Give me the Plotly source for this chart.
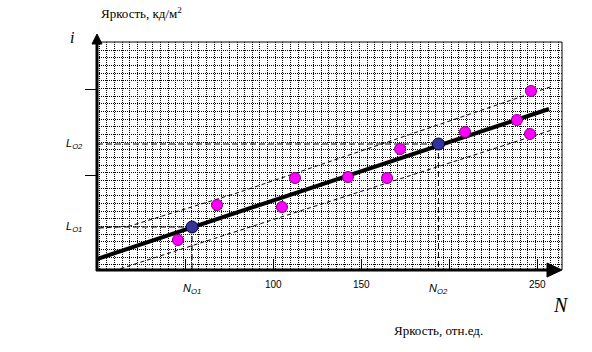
import plotly.graph_objects as go

# ---------------- data ----------------
N_points = [46.0, 68.2, 105.1, 112.5, 142.6, 164.8, 172.2, 209.1, 238.6, 246.0, 246.6]
L_points = [15.0, 32.5, 31.5, 46.0, 46.5, 46.0, 60.5, 69.0, 75.0, 68.0, 89.5]

N_ref = [54, 194]          # N01, N02
L_ref = [21.5, 63.0]       # L01, L02
ref_names_N = ["N<sub>O1</sub>", "N<sub>O2</sub>"]
ref_names_L = ["L<sub>O1</sub>", "L<sub>O2</sub>"]

fit_N = [0.0, 256.8]
fit_L = [5.5, 80.5]

upper_N = [1.7, 18.75, 79.5, 257.4]
upper_L = [21.0, 22.0, 38.5, 91.5]
lower_N = [5.7, 258.5]
lower_L = [-1.5, 70.0]

x_ticks = [50, 100, 150, 200, 250]
x_tick_labels = ["", "100", "150", "", "250"]
y_ticks = [47.5, 90.5]

X_RANGE = [0, 264.2]
Y_RANGE = [0, 114]

# ---------------- layout helpers ----------------
W, H = 592, 352
PL, PR, PT, PB = 97, 562, 42, 270   # plot area in pixels


def px(x):
    return (x - PL) / (PR - PL)


def py(y):
    return (PB - y) / (PB - PT)


SERIF = "Liberation Serif, Times New Roman, serif"
SANS = "Liberation Sans, Arial, sans-serif"

fig = go.Figure()

dash_thin = "4px,3px"
dash_long = "6px,3px"

# confidence band lines
fig.add_trace(go.Scatter(x=upper_N, y=upper_L, mode="lines",
                         line=dict(color="black", width=1, dash=dash_thin), hoverinfo="skip"))
fig.add_trace(go.Scatter(x=lower_N, y=lower_L, mode="lines",
                         line=dict(color="black", width=1, dash=dash_thin), hoverinfo="skip"))

# reference dashed lines
for n, l in zip(N_ref, L_ref):
    fig.add_trace(go.Scatter(x=[X_RANGE[0], n], y=[l, l], mode="lines",
                             line=dict(color="black", width=1, dash=dash_long), hoverinfo="skip"))
    fig.add_trace(go.Scatter(x=[n, n], y=[l, Y_RANGE[0]], mode="lines",
                             line=dict(color="black", width=1, dash=dash_long), hoverinfo="skip"))

# fitted line
fig.add_trace(go.Scatter(x=fit_N, y=fit_L, mode="lines",
                         line=dict(color="black", width=4), hoverinfo="skip"))

# measured points
fig.add_trace(go.Scatter(x=N_points, y=L_points, mode="markers",
                         marker=dict(size=11, color="#FF00FF", line=dict(color="#800080", width=1))))
# reference points
fig.add_trace(go.Scatter(x=N_ref, y=L_ref, mode="markers",
                         marker=dict(size=12, color="#333399", line=dict(color="#000033", width=1))))

grid_dash = "1px,1px"

fig.update_xaxes(
    range=X_RANGE, showgrid=False, zeroline=False, showline=False,
    tickmode="array", tickvals=x_ticks, ticks="inside", ticklen=11, tickwidth=1,
    tickcolor="black", showticklabels=False,
    minor=dict(tickmode="linear", tick0=1.3, dtick=4.347, showgrid=True,
               gridcolor="black", gridwidth=1, griddash=grid_dash, ticks=""),
)
fig.update_yaxes(
    range=Y_RANGE, showgrid=False, zeroline=False, showline=False,
    tickmode="array", tickvals=y_ticks, ticks="outside", ticklen=11, tickwidth=1,
    tickcolor="black", showticklabels=False,
    minor=dict(tickmode="linear", tick0=2.62, dtick=3.835, showgrid=True,
               gridcolor="black", gridwidth=1, griddash=grid_dash, ticks=""),
)

shapes = [
    # top and right border of grid
    dict(type="line", xref="paper", yref="paper", x0=0, x1=1, y0=1, y1=1,
         line=dict(color="black", width=1), layer="above"),
    dict(type="line", xref="paper", yref="paper", x0=1, x1=1, y0=0, y1=1,
         line=dict(color="black", width=1), layer="above"),
    # x axis
    dict(type="line", xref="paper", yref="paper", x0=px(96), x1=px(549), y0=py(270), y1=py(270),
         line=dict(color="black", width=3), layer="above"),
    dict(type="path", xref="paper", yref="paper",
         path=f"M {px(547)} {py(263)} L {px(562)} {py(270)} L {px(547)} {py(277)} Z",
         fillcolor="black", line=dict(color="black", width=1), layer="above"),
    # y axis
    dict(type="line", xref="paper", yref="paper", x0=px(97), x1=px(97), y0=py(271), y1=py(42),
         line=dict(color="black", width=3), layer="above"),
    dict(type="path", xref="paper", yref="paper",
         path=f"M {px(92)} {py(44)} L {px(97)} {py(34)} L {px(102)} {py(44)} Z",
         fillcolor="black", line=dict(color="black", width=1), layer="above"),
]

annotations = []


def ann(text, x, y, size, family, xref="paper", yref="paper", **kw):
    annotations.append(dict(text=text, x=x, y=y, xref=xref, yref=yref, showarrow=False,
                            xanchor="center", yanchor="middle",
                            font=dict(size=size, family=family, color="black"), **kw))


ann("Яркость, кд/м<sup>2</sup>", px(141), py(13), 13, SERIF)
ann("<i>i</i>", px(72), py(37), 16, SERIF)
ann("<i>N</i>", px(561), py(305), 20, SERIF)
ann("Яркость, отн.ед.", px(438), py(330), 13, SERIF)

for v, t in zip(x_ticks, x_tick_labels):
    if t:
        ann(t, v, py(284), 10, SANS, xref="x")
for n, t in zip(N_ref, ref_names_N):
    ann("<i>" + t + "</i>", n, py(289), 11, SANS, xref="x")
for l, t in zip(L_ref, ref_names_L):
    ann("<i>" + t + "</i>", px(74), l, 11, SANS, yref="y")

fig.update_layout(
    width=W, height=H,
    margin=dict(l=PL, r=W - PR, t=PT, b=H - PB, pad=0),
    paper_bgcolor="white", plot_bgcolor="white",
    showlegend=False,
    shapes=shapes, annotations=annotations,
)

fig.write_html("out.html")
